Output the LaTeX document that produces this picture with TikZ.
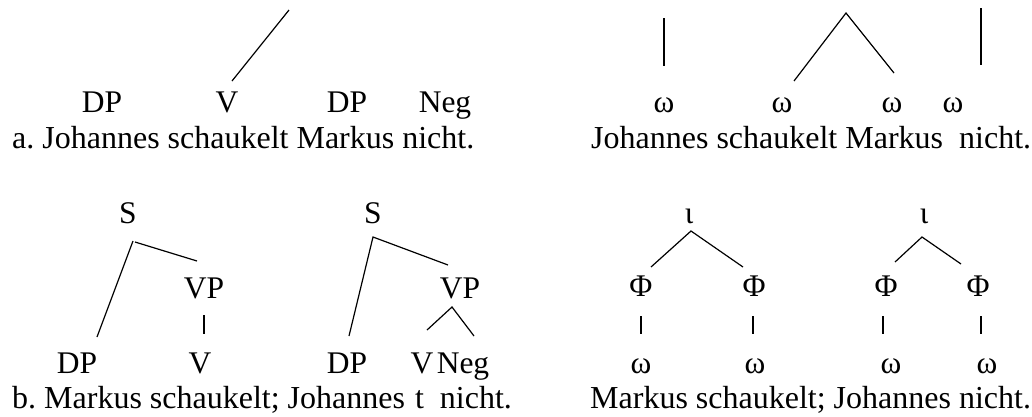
\documentclass[tikz,border=0pt]{standalone}
\usepackage{fontspec}
\setmainfont{Liberation Serif}
\begin{document}
\frenchspacing
\begin{tikzpicture}[x=1pt,y=-1pt,
  lab/.style={anchor=base,inner sep=0pt,font=\fontsize{31.5}{36}\selectfont},
  sent/.style={anchor=base west,inner sep=0pt,font=\fontsize{32}{36}\selectfont},
  br/.style={line width=1.2pt,black}]
\useasboundingbox (0,0) rectangle (1032,416);
% ---------- panel a (syntax) ----------
\node[lab] (aDP1) at (102,112) {DP};
\node[lab] (aV) at (227,112) {V};
\node[lab] (aDP2) at (347,112) {DP};
\node[lab] (aNeg) at (445,112) {Neg};
\node[sent] (aS) at (12,148) {a. Johannes schaukelt Markus nicht.};
\coordinate (aT) at (289,10);
\coordinate (aVt) at (232,81);
\draw[br] (aT) -- (aVt);
% ---------- panel a (prosody) ----------
\node[lab] (pw1) at (664,112) {ω};
\node[lab] (pw2) at (782,112) {ω};
\node[lab] (pw3) at (892,112) {ω};
\node[lab] (pw4) at (953,112) {ω};
\node[sent] (pS) at (591,148) {Johannes schaukelt Markus\ \ nicht.};
\coordinate (p1t) at (664,18);
\coordinate (p1b) at (664,66);
\coordinate (pApex) at (846,13);
\coordinate (p2b) at (794,81);
\coordinate (p3b) at (894,73);
\coordinate (p4t) at (981,8);
\coordinate (p4b) at (981,65);
\draw[br] (p1t) -- (p1b);
\draw[br] (p2b) -- (pApex) -- (p3b);
\draw[br] (p4t) -- (p4b);
% ---------- panel b (syntax) ----------
\node[lab] (bS1) at (128,223) {S};
\node[lab] (bVP1) at (204,298) {VP};
\node[lab] (bDP1) at (77,373) {DP};
\node[lab] (bV1) at (200,373) {V};
\node[lab] (bS2) at (373,223) {S};
\node[lab] (bVP2) at (460,298) {VP};
\node[lab] (bDP2) at (347,373) {DP};
\node[lab] (bV2) at (422,373) {V};
\node[lab] (bNeg) at (463,373) {Neg};
\node[sent] (bS) at (12,408) {b. Markus schaukelt; Johannes\hspace{10pt}t\hspace{16pt}nicht.};
\coordinate (s1a) at (133,241);
\coordinate (s1l) at (97,337);
\coordinate (s1b) at (135,242);
\coordinate (s1r) at (197,261);
\coordinate (vp1t) at (204,315);
\coordinate (vp1b) at (204,334);
\draw[br] (s1l) -- (s1a);
\draw[br] (s1b) -- (s1r);
\draw[br] (vp1t) -- (vp1b);
\coordinate (s2a) at (373,237);
\coordinate (s2l) at (349,336);
\coordinate (s2r) at (448,265);
\draw[br] (s2l) -- (s2a) -- (s2r);
\coordinate (vp2a) at (452,307);
\coordinate (vp2l) at (427,330);
\coordinate (vp2r) at (474,336);
\draw[br] (vp2l) -- (vp2a) -- (vp2r);
% ---------- panel b (prosody) ----------
\node[lab] (qi1) at (689,223) {ι};
\node[lab] (qF1) at (641,296) {Φ};
\node[lab] (qF2) at (754,296) {Φ};
\node[lab] (qw1) at (641,373) {ω};
\node[lab] (qw2) at (755,373) {ω};
\node[lab] (qi2) at (924,223) {ι};
\node[lab] (qF3) at (886,296) {Φ};
\node[lab] (qF4) at (978,296) {Φ};
\node[lab] (qw3) at (891,373) {ω};
\node[lab] (qw4) at (987,373) {ω};
\node[sent] (qS) at (590,408) {Markus schaukelt; Johannes nicht.};
\coordinate (i1a) at (691,231);
\coordinate (i1l) at (651,267);
\coordinate (i1r) at (743,267);
\draw[br] (i1l) -- (i1a) -- (i1r);
\coordinate (i2a) at (922,237);
\coordinate (i2l) at (895,262);
\coordinate (i2r) at (961,264);
\draw[br] (i2l) -- (i2a) -- (i2r);
\foreach \n/\x in {f1/641,f2/753,f3/883,f4/981}{
  \coordinate (\n t) at (\x,316);
  \coordinate (\n b) at (\x,334);
  \draw[br] (\n t) -- (\n b);
}
\end{tikzpicture}
\end{document}
